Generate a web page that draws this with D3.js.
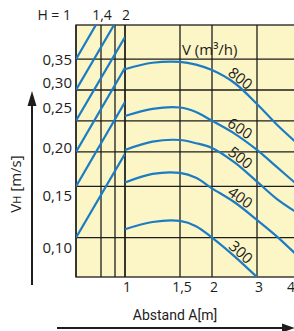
<!DOCTYPE html>
<html>
<head>
<meta charset="utf-8">
<script src="https://cdn.jsdelivr.net/npm/d3@7"></script>
<style>
  body { margin: 0; background: #fff; }
  svg { display: block; font-family: "Open Sans", sans-serif; }
</style>
</head>
<body>
<div id="chart"></div>
<script>
// values
const aTicks = [1, 1.5, 2, 3, 4];
const aTickLabels = ["1", "1,5", "2", "3", "4"];
const hTicks = [1, 1.4, 2];
const hTickLabels = ["H = 1", "1,4", "2"];
const hGrid = [1, 1.4, 1.75, 2];
const vTicks = [0.10, 0.15, 0.20, 0.25, 0.30, 0.35];
const vTickLabels = ["0,10", "0,15", "0,20", "0,25", "0,30", "0,35"];
const vGrid = [0.352, 0.286, 0.234, 0.196, 0.16, 0.11];

// H correction lines: VH at H=1 and at H=2
const diagAtH1 = [0.352, 0.286, 0.234, 0.196, 0.16, 0.11];
const diagAtH2 = [0.535, 0.467, 0.40, 0.333, 0.262, 0.194];

// curves VH(A) per volume flow
const aPts = [1, 1.25, 1.5, 1.75, 2, 2.5, 3, 3.5, 4];
const flows = [800, 600, 500, 400, 300];
const v800 = [0.330, 0.344, 0.346, 0.340, 0.328, 0.300, 0.258, 0.229, 0.206];
const v600 = [0.240, 0.249, 0.251, 0.245, 0.234, 0.218, 0.198, 0.180, 0.162];
const v500 = [0.198, 0.208, 0.210, 0.206, 0.200, 0.185, 0.165, 0.147, 0.134];
const v400 = [0.164, 0.173, 0.174, 0.169, 0.158, 0.144, 0.127, 0.111, 0.093];
const v300 = [0.118, 0.125, 0.126, 0.121, 0.110, 0.092, 0.072];
const series = [v800, v600, v500, v400, v300];

const W = 294, H = 331;
const plotTop = 25, plotBottom = 277;
const blue = "#1b7cc4", ink = "#1d1d1b";

const x = d3.scaleLinear().domain(aTicks).range([125, 180, 212, 257, 297]);
const h = d3.scaleLinear().domain(hTicks).range([76, 101, 125]);
const y = d3.scaleLinear().domain(vTicks).range([248, 196, 148, 108, 83, 60]);
const left = h(1), right = x(4);

const svg = d3.select("#chart").append("svg")
  .attr("width", W)
  .attr("height", H);

const defs = svg.append("defs");
defs.append("clipPath").attr("id", "plotClip")
  .append("rect").attr("x", left).attr("y", plotTop).attr("width", right - left).attr("height", plotBottom - plotTop);
defs.append("clipPath").attr("id", "hClip")
  .append("rect").attr("x", left).attr("y", plotTop).attr("width", h(2) - left).attr("height", plotBottom - plotTop);

svg.append("rect")
  .attr("x", left).attr("y", plotTop)
  .attr("width", right - left).attr("height", plotBottom - plotTop)
  .attr("fill", "#fcf5c6");

// grid
const grid = svg.append("g").attr("stroke", ink).attr("stroke-width", 1.3);
grid.selectAll(".hg").data(vGrid).enter().append("line")
  .attr("x1", left).attr("x2", right)
  .attr("y1", d => y(d)).attr("y2", d => y(d));
grid.selectAll(".vh").data(hGrid).enter().append("line")
  .attr("x1", d => h(d)).attr("x2", d => h(d))
  .attr("y1", plotTop).attr("y2", plotBottom);
grid.selectAll(".va").data(aTicks).enter().append("line")
  .attr("x1", d => x(d)).attr("x2", d => x(d))
  .attr("y1", plotTop).attr("y2", plotBottom);
grid.append("rect")
  .attr("x", left).attr("y", plotTop)
  .attr("width", right - left).attr("height", plotBottom - plotTop)
  .attr("fill", "none");

// H lines
svg.append("g").attr("clip-path", "url(#hClip)")
  .selectAll("line").data(diagAtH1).enter().append("line")
  .attr("x1", h(1)).attr("y1", d => y(d))
  .attr("x2", h(2)).attr("y2", (d, i) => y(diagAtH2[i]))
  .attr("stroke", blue).attr("stroke-width", 2.2);

// curves
const line = d3.line()
  .x((d, i) => x(aPts[i]))
  .y(d => y(d))
  .curve(d3.curveCatmullRom.alpha(0.5));

const curves = svg.append("g").attr("clip-path", "url(#plotClip)");
const paths = series.map(s => curves.append("path")
  .attr("d", line(s))
  .attr("fill", "none")
  .attr("stroke", blue)
  .attr("stroke-width", 2.2));

// curve labels along the lines
const labelX = 236;
paths.forEach((p, i) => {
  const node = p.node();
  const len = node.getTotalLength();
  let lo = 0, hi = len;
  for (let k = 0; k < 30; k++) {
    const mid = (lo + hi) / 2;
    if (node.getPointAtLength(mid).x < labelX) lo = mid; else hi = mid;
  }
  const pt = node.getPointAtLength(lo);
  const p1 = node.getPointAtLength(Math.max(0, lo - 4));
  const p2 = node.getPointAtLength(Math.min(len, lo + 4));
  const ang = Math.atan2(p2.y - p1.y, p2.x - p1.x) * 180 / Math.PI;
  svg.append("text")
    .attr("transform", `translate(${pt.x},${pt.y}) rotate(${ang})`)
    .attr("y", -2)
    .attr("text-anchor", "middle")
    .attr("font-size", 15)
    .attr("fill", ink)
    .text(flows[i]);
});

svg.append("text")
  .attr("x", x(1.5) + 2).attr("y", 55)
  .attr("font-size", 15).attr("fill", ink)
  .text("V (m³/h)");

// y tick labels
svg.append("g").selectAll("text").data(vTicks).enter().append("text")
  .attr("x", 72).attr("y", d => y(d))
  .attr("dy", "0.35em")
  .attr("text-anchor", "end")
  .attr("font-size", 15).attr("fill", ink)
  .text((d, i) => vTickLabels[i]);

// top H labels
svg.append("g").selectAll("text").data(hTicks).enter().append("text")
  .attr("x", (d, i) => i === 0 ? h(d) - 5 : h(d) + 1)
  .attr("y", 20)
  .attr("text-anchor", (d, i) => i === 0 ? "end" : "middle")
  .attr("font-size", 14).attr("fill", ink)
  .text((d, i) => hTickLabels[i]);

// bottom A labels
svg.append("g").selectAll("text").data(aTicks).enter().append("text")
  .attr("x", d => Math.min(x(d) + 2, W - 3))
  .attr("y", 292)
  .attr("text-anchor", "middle")
  .attr("font-size", 14).attr("fill", ink)
  .text((d, i) => aTickLabels[i]);

svg.append("text")
  .attr("x", 175).attr("y", 320)
  .attr("text-anchor", "middle")
  .attr("font-family", "Roboto, sans-serif")
  .attr("font-size", 14).attr("fill", ink)
  .text("Abstand A[m]");

// axis arrows
svg.append("line").attr("x1", 32).attr("x2", 32).attr("y1", 285).attr("y2", 104)
  .attr("stroke", ink).attr("stroke-width", 2);
svg.append("path").attr("d", "M32,91 L36.5,106 L27.5,106 Z").attr("fill", ink);
svg.append("line").attr("x1", 57).attr("x2", 284).attr("y1", 328).attr("y2", 328)
  .attr("stroke", ink).attr("stroke-width", 2);
svg.append("path").attr("d", "M295,328 L282,323.5 L282,332.5 Z").attr("fill", ink);

const yl = svg.append("text")
  .attr("transform", "translate(21,184) rotate(-90)")
  .attr("text-anchor", "middle")
  .attr("font-size", 15).attr("fill", ink);
yl.append("tspan").text("V");
yl.append("tspan").attr("font-size", 11).text("H");
yl.append("tspan").text(" [m/s]");
</script>
</body>
</html>
